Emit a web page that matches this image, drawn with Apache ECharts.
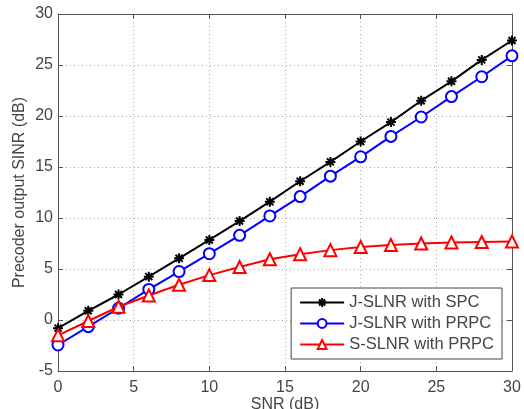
<!DOCTYPE html>
<html>
<head>
<meta charset="utf-8">
<script src="https://cdn.jsdelivr.net/npm/echarts@6/dist/echarts.min.js"></script>
<style>
  html, body { margin: 0; padding: 0; background: #fff; }
  #main { width: 524px; height: 409px; }
</style>
</head>
<body>
<div id="main"></div>
<script>
var snr = [0, 2, 4, 6, 8, 10, 12, 14, 16, 18, 20, 22, 24, 26, 28, 30];
var jSlnrSpc = [-0.8, 0.9, 2.5, 4.25, 6.05, 7.85, 9.7, 11.6, 13.6, 15.5, 17.5, 19.4, 21.5, 23.4, 25.5, 27.4];
var jSlnrPrpc = [-2.45, -0.65, 1.15, 3.0, 4.75, 6.5, 8.3, 10.2, 12.1, 14.1, 16.0, 18.0, 19.9, 21.9, 23.85, 25.9];
var sSlnrPrpc = [-1.5, -0.1, 1.3, 2.4, 3.45, 4.4, 5.2, 5.95, 6.45, 6.85, 7.15, 7.35, 7.5, 7.6, 7.65, 7.7];
var xTicks = [0, 5, 10, 15, 20, 25, 30];
var yTicks = [-5, 0, 5, 10, 15, 20, 25, 30];

var names = ['J-SLNR with SPC', 'J-SLNR with PRPC', 'S-SLNR with PRPC'];

var chartDom = document.getElementById('main');
var myChart = echarts.init(chartDom);
var option;

function pairs(ys) {
    return snr.map(function (x, i) { return [x, ys[i]]; });
}

var axisColor = '#555';
var labelStyle = { color: '#444', fontSize: 16, fontFamily: 'Liberation Sans, Arial, sans-serif' };
var splitStyle = { show: true, lineStyle: { color: '#aaa', type: [1, 3], width: 1 } };

// asterisk marker, drawn by stroke
var star = 'path://M0,5L10,5M5,0L5,10M1.5,1.5L8.5,8.5M8.5,1.5L1.5,8.5';

option = {
    backgroundColor: '#fff',
    animation: false,
    grid: {
        left: 58,
        right: 12,
        top: 14,
        bottom: 38,
        outerBoundsMode: 'none'
    },
    legend: {
        orient: 'vertical',
        right: 22,
        bottom: 50,
        data: names,
        itemWidth: 44,
        itemHeight: 11,
        itemGap: 4,
        padding: [6, 8, 6, 8],
        backgroundColor: '#fff',
        borderColor: '#444',
        borderWidth: 1,
        textStyle: { color: '#444', fontSize: 16.5, fontFamily: 'Liberation Sans, Arial, sans-serif' }
    },
    xAxis: [{
        type: 'value',
        min: xTicks[0],
        max: xTicks[xTicks.length - 1],
        interval: 5,
        name: 'SNR (dB)',
        nameLocation: 'middle',
        nameGap: 26,
        nameMoveOverlap: false,
        nameTextStyle: labelStyle,
        axisLine: { onZero: false, lineStyle: { color: axisColor, width: 1 } },
        axisTick: { inside: true, length: 5, lineStyle: { color: axisColor } },
        axisLabel: Object.assign({ margin: 9 }, labelStyle),
        splitLine: splitStyle
    }, {
        type: 'value',
        position: 'top',
        min: xTicks[0],
        max: xTicks[xTicks.length - 1],
        interval: 5,
        axisLine: { onZero: false, lineStyle: { color: axisColor, width: 1 } },
        axisTick: { inside: true, length: 5, lineStyle: { color: axisColor } },
        axisLabel: { show: false },
        splitLine: { show: false }
    }],
    yAxis: [{
        type: 'value',
        min: yTicks[0],
        max: yTicks[yTicks.length - 1],
        interval: 5,
        name: 'Precoder output SINR (dB)',
        nameLocation: 'middle',
        nameGap: 30,
        nameMoveOverlap: false,
        nameTextStyle: labelStyle,
        axisLine: { show: true, onZero: false, lineStyle: { color: axisColor, width: 1 } },
        axisTick: { show: true, inside: true, length: 5, lineStyle: { color: axisColor } },
        axisLabel: Object.assign({ margin: 5 }, labelStyle),
        splitLine: splitStyle
    }, {
        type: 'value',
        position: 'right',
        min: yTicks[0],
        max: yTicks[yTicks.length - 1],
        interval: 5,
        axisLine: { show: true, onZero: false, lineStyle: { color: axisColor, width: 1 } },
        axisTick: { show: true, inside: true, length: 5, lineStyle: { color: axisColor } },
        axisLabel: { show: false },
        splitLine: { show: false }
    }],
    series: [
        {
            name: names[0],
            type: 'line',
            data: pairs(jSlnrSpc),
            symbol: star,
            symbolSize: 10,
            lineStyle: { color: '#000', width: 2 },
            itemStyle: { color: '#000', borderColor: '#000', borderWidth: 2 },
            z: 3
        },
        {
            name: names[1],
            type: 'line',
            data: pairs(jSlnrPrpc),
            symbol: 'emptyCircle',
            symbolSize: 11,
            lineStyle: { color: '#0000ff', width: 2 },
            itemStyle: { color: '#0000ff', borderColor: '#0000ff', borderWidth: 2 },
            z: 2
        },
        {
            name: names[2],
            type: 'line',
            data: pairs(sSlnrPrpc),
            symbol: 'emptyTriangle',
            symbolSize: 12,
            lineStyle: { color: '#ff0000', width: 2 },
            itemStyle: { color: '#ff0000', borderColor: '#ff0000', borderWidth: 2 },
            z: 4
        }
    ]
};

option && myChart.setOption(option);

window.addEventListener('resize', myChart.resize);
</script>
</body>
</html>
